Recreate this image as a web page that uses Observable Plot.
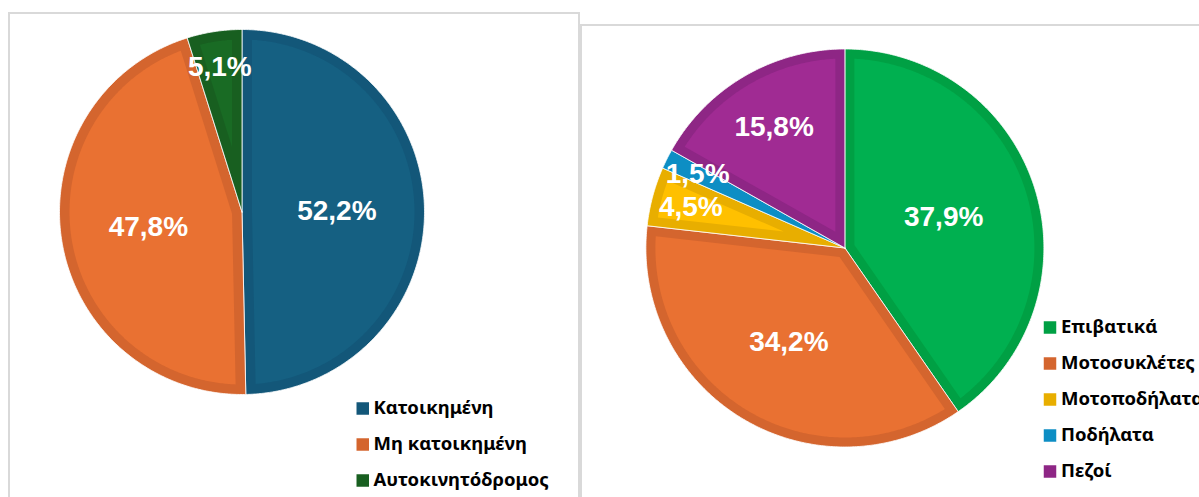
<!DOCTYPE html>
<html><head><meta charset="utf-8">
<script src="https://cdn.jsdelivr.net/npm/d3@7"></script>
<script src="https://cdn.jsdelivr.net/npm/@observablehq/plot@0.6"></script>
<style>
html,body{margin:0;padding:0;background:#fff;width:1199px;height:497px;overflow:hidden;position:relative;}
.panel{position:absolute;border:2px solid #d9d9d9;background:#fff;box-sizing:border-box;overflow:hidden;}
#p1{left:8px;top:12px;width:572px;height:510px;}
#p2{left:580px;top:24px;width:640px;height:510px;}
.panel svg{position:absolute;left:0;top:0;}
.legend{position:absolute;width:230px;height:190px;}
.legend svg{display:block;overflow:visible;max-width:none;}
#err{position:absolute;left:10px;top:470px;color:red;font:12px sans-serif;}
</style></head><body>
<div class="panel" id="p1"></div>
<div class="panel" id="p2"></div>
<div class="legend" id="l1" style="left:350px;top:388.5px;"></div>
<div class="legend" id="l2" style="left:1037px;top:308.4px;"></div>
<div id="err"></div>
<script>
// ---- data ----
const roadCategories = ["Κατοικημένη", "Μη κατοικημένη", "Αυτοκινητόδρομος"];
const roadValues = [52.2, 47.8, 5.1];
const userCategories = ["Επιβατικά", "Μοτοσυκλέτες", "Μοτοποδήλατα", "Ποδήλατα", "Πεζοί"];
const userValues = [37.9, 34.2, 4.5, 1.5, 15.8];

// ---- styles ----
const roadFill = ["#156082", "#E97132", "#196B24"];
const roadEdge = ["#135779", "#D4652E", "#185F20"];
const userFill = ["#00B050", "#E97132", "#FFC000", "#0F9ED5", "#A02B93"];
const userEdge = ["#00A044", "#D4652E", "#E8AE00", "#0D8EC4", "#8E2685"];

function pieChart(el, cats, vals, fills, edges, cfg) {
  const rows = cats.map((c, i) => ({cat: c, value: vals[i], i}));
  const total = d3.sum(vals);
  const arcs = d3.pie().sort(null).value(d => d.value)(rows);
  const d = cfg.border / cfg.r;
  const marks = [];
  const labels = [];
  arcs.forEach(a => {
    const a0 = a.startAngle, a1 = a.endAngle;
    const n = Math.max(2, Math.ceil((a1 - a0) / (Math.PI / 360)));
    const outer = [{x: 0, y: 0}];
    for (let k = 0; k <= n; k++) {
      const t = a0 + (a1 - a0) * k / n;
      outer.push({x: Math.sin(t), y: Math.cos(t)});
    }
    outer.push({x: 0, y: 0});
    marks.push(Plot.line(outer, {x: "x", y: "y", fill: edges[a.data.i], stroke: "white", strokeWidth: 0.8, curve: "linear"}));
    const th = a1 - a0;
    const rho = 1 - d;
    const apex = d / Math.sin(th / 2);
    if (apex < rho) {
      const dl = Math.asin(d / rho);
      const mid = (a0 + a1) / 2;
      const inner = [{x: apex * Math.sin(mid), y: apex * Math.cos(mid)}];
      const b0 = a0 + dl, b1 = a1 - dl;
      const m = Math.max(2, Math.ceil((b1 - b0) / (Math.PI / 360)));
      for (let k = 0; k <= m; k++) {
        const t = b0 + (b1 - b0) * k / m;
        inner.push({x: rho * Math.sin(t), y: rho * Math.cos(t)});
      }
      inner.push(inner[0]);
      marks.push(Plot.line(inner, {x: "x", y: "y", fill: fills[a.data.i], stroke: "none", curve: "linear"}));
    }
    const share = a.data.value / total;
    const f = 0.84 - 0.32 * Math.min(1, share / 0.4);
    const mid = (a0 + a1) / 2;
    labels.push({x: f * Math.sin(mid), y: f * Math.cos(mid),
      text: a.data.value.toFixed(1).replace(".", ",") + "%"});
  });
  marks.push(Plot.text(labels, {x: "x", y: "y", text: "text", fill: "white",
    fontSize: 28, fontWeight: 700, fontFamily: "Liberation Sans, Arial, sans-serif"}));
  const chart = Plot.plot({
    width: cfg.width, height: cfg.height,
    margin: 0,
    x: {domain: [-1, 1], range: [cfg.cx - cfg.r, cfg.cx + cfg.r], axis: null},
    y: {domain: [1, -1], range: [cfg.cy - cfg.r, cfg.cy + cfg.r], axis: null},
    style: {background: "transparent", overflow: "visible"},
    marks
  });
  el.appendChild(chart);
}

function legend(el, cats, colors, cfg) {
  const rowH = 36.5;
  const h = rowH * cats.length;
  const marks = [];
  cats.forEach((c, i) => {
    const item = [{cat: c, x0: 0}];
    marks.push(Plot.dot(item, {x: "x0", y: "cat", symbol: "square", r: 7.05, fill: colors[i], stroke: "none"}));
    marks.push(Plot.text(item, {x: "x0", y: "cat", text: "cat", dx: cfg.textDx, textAnchor: "start",
      fill: "#000", fontSize: 18.5, fontWeight: 700, fontFamily: "Noto Sans, DejaVu Sans, sans-serif"}));
  });
  const chart = Plot.plot({
    width: cfg.width, height: h, margin: 0,
    x: {domain: [0, 1], range: [cfg.swatchX, cfg.width], axis: null},
    y: {type: "point", domain: cats, range: [rowH / 2, h - rowH / 2], padding: 0, axis: null},
    style: {background: "transparent", overflow: "visible"},
    marks
  });
  el.appendChild(chart);
}

try {
  pieChart(document.getElementById("p1"), roadCategories, roadValues, roadFill, roadEdge,
    {width: 568, height: 490, cx: 231.5, cy: 197.5, r: 182.5, border: 10});
  pieChart(document.getElementById("p2"), userCategories, userValues, userFill, userEdge,
    {width: 636, height: 480, cx: 262.4, cy: 221.5, r: 199, border: 9.5});
  legend(document.getElementById("l1"), roadCategories, roadEdge, {width: 225, swatchX: 12.25, textDx: 10.75});
  legend(document.getElementById("l2"), userCategories, userEdge, {width: 162, swatchX: 12.5, textDx: 11});
} catch (e) {
  document.getElementById("err").textContent = String(e);
}
</script>
</body></html>
